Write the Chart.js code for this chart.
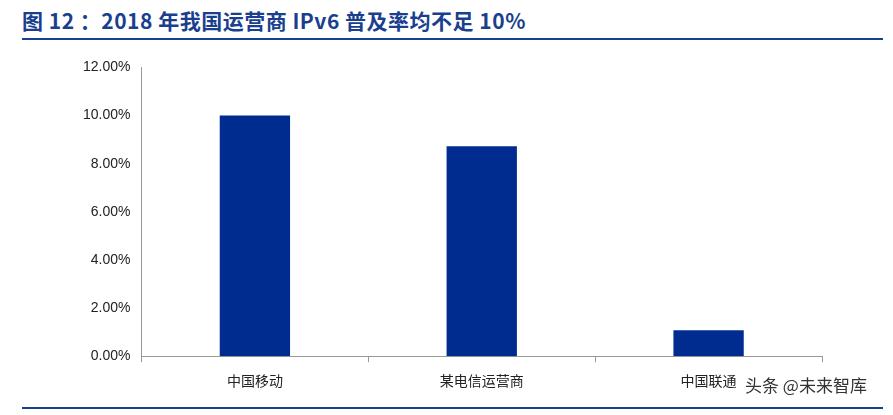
<!DOCTYPE html>
<html><head><meta charset="utf-8">
<script src="https://cdn.jsdelivr.net/npm/chart.js@4"></script>
<style>
body{margin:0;width:893px;height:415px;background:#fff;font-family:"Noto Sans CJK SC",sans-serif;position:relative;overflow:hidden}
#title{position:absolute;left:22px;top:5px;font-size:21px;font-weight:bold;color:#1a3f8f;letter-spacing:0.5px}
#line1{position:absolute;left:22px;right:10px;top:38px;border-top:2px solid #1a3f8f}
#line2{position:absolute;left:22px;right:10px;top:407px;border-top:2px solid #1a3f8f}
#wm{position:absolute;left:745px;top:372px;font-size:17px;color:#333;background:rgba(255,255,255,.8)}
#box{position:absolute;left:80px;top:56px;width:760px;height:343px}
</style></head><body>
<div id="title">图 12 ：2018 年我国运营商 IPv6 普及率均不足 10%</div>
<div id="line1"></div>
<div id="box"><canvas id="chart"></canvas></div>
<div id="wm">头条 @未来智库</div>
<div id="line2"></div>
<script>
const categories = ["中国移动", "某电信运营商", "中国联通"];
const values = [10.0, 8.72, 1.08];
new Chart(document.getElementById('chart'), {
  type: 'bar',
  data: {labels: categories, datasets: [{data: values, backgroundColor: '#002b8f', barPercentage: 0.62, categoryPercentage: 0.5}]},
  options: {
    responsive: true, maintainAspectRatio: false, animation: false,
    layout: {padding: {right: 18, top: 8}},
    plugins: {legend: {display: false}, tooltip: {enabled: false}},
    scales: {
      y: {min: 0, max: 12, ticks: {stepSize: 2, color: '#222', font: {size: 14, family: 'Liberation Sans'}, callback: v => v.toFixed(2) + '%'},
          grid: {display: false}, border: {color: '#999'}},
      x: {ticks: {color: '#222', padding: 10, font: {size: 14, family: 'Noto Sans CJK SC'}},
          grid: {display: true, drawOnChartArea: false, offset: true, tickLength: 6, color: '#999'}, border: {color: '#999'}}
    }
  }
});
</script>
</body></html>
